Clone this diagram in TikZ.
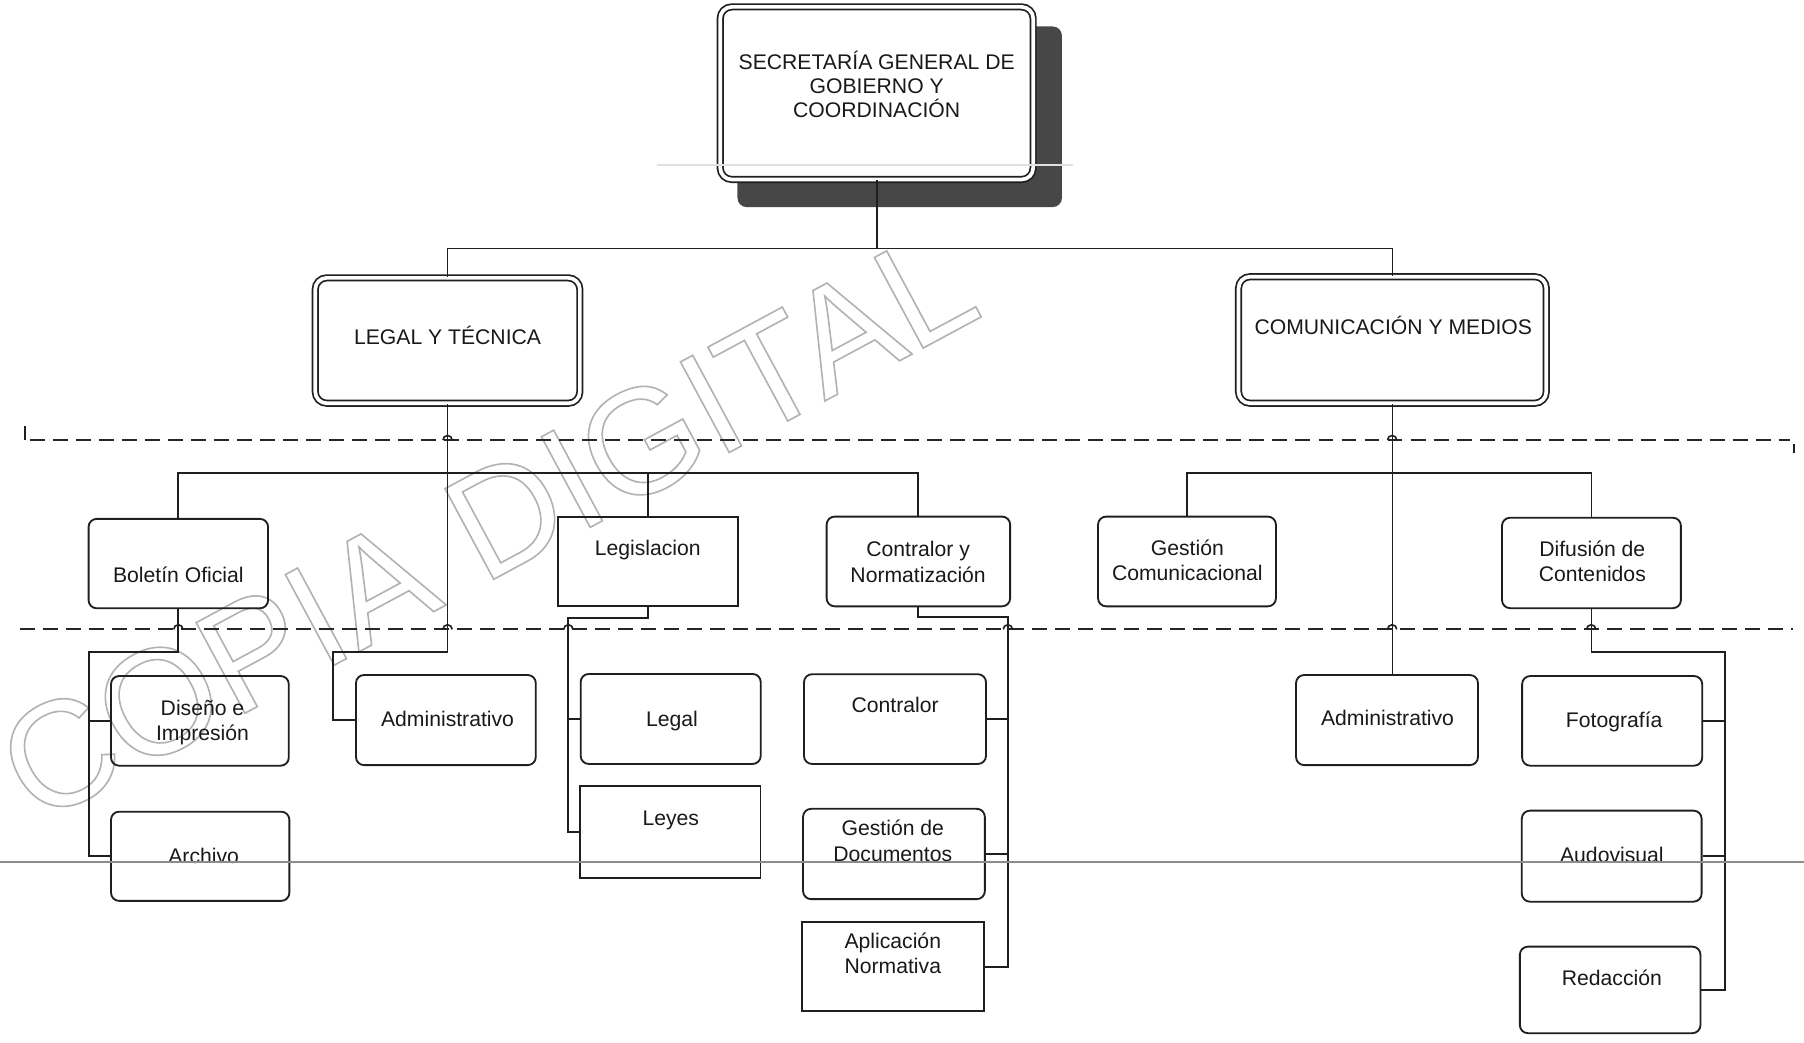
\documentclass[tikz,border=0pt]{standalone}
\usepackage{fontspec}
\setmainfont{Liberation Sans}
\usetikzlibrary{calc}
\tikzset{
  box/.style={draw=black!88, line width=0.8pt, rounded corners=3.5pt, inner sep=0pt},
  sqbox/.style={draw=black!88, line width=0.8pt, sharp corners, inner sep=0pt},
  dblbox/.style={draw=black!88, line width=0.75pt, double=white, double distance=1.6pt, rounded corners=5pt, inner sep=0pt},
  lbl/.style={anchor=base, align=center, inner sep=0pt, text=black!90, font=\fontsize{9.2pt}{11pt}\selectfont},
  toplbl/.style={lbl, font=\fontsize{9.2pt}{10.5pt}\selectfont},
  conn/.style={draw=black!88, line width=0.8pt},
  hop/.style={draw=black!88, line width=0.7pt},
  sep/.style={draw=black!85, line width=0.8pt, dash pattern=on 6.5pt off 3.5pt},
  wmk/.style={rotate=28.3, inner sep=0pt, font=\fontsize{65pt}{70pt}\selectfont},
  scan/.style={draw=black!45, line width=1pt},
}
\newcommand{\rbox}[6]{\node[#1, minimum width={(#5-#3)*0.5pt}, minimum height={(#6-#4)*0.5pt}] (#2) at ({(#3+#5)/2},{(#4+#6)/2}) {};}
\newcommand{\outlinetext}[1]{\special{pdf:literal 1 Tr 0.7 w}#1\special{pdf:literal 0 Tr}}
\begin{document}
\begin{tikzpicture}[x=0.5pt,y=-0.5pt]
\fill[white] (0,0) rectangle (1568,906);
\useasboundingbox (0,0) rectangle (1568,906);

% watermark (outlined letters)
\node[wmk, text=black!30] (wmark) at (423,456) {\outlinetext{COPIA DIGITAL}};

% separators
\coordinate (d1a) at (26,382.5);
\coordinate (d1b) at (1556,382.5);
\coordinate (d2a) at (17,547);
\coordinate (d2b) at (1558,547);
\draw[sep] (d1a) -- (d1b);
\draw[sep] (d2a) -- (d2b);
\coordinate (t1a) at (21.6,370);
\coordinate (t1b) at (21.6,382.5);
\coordinate (t2a) at (1559.5,386);
\coordinate (t2b) at (1559.5,394);
\draw[conn] (t1a) -- (t1b);
\draw[conn] (t2a) -- (t2b);

% top box with shadow
\fill[black!72, rounded corners=4pt] (641,23) rectangle (923,180);
\rbox{dblbox, fill=white}{top}{626}{6}{898}{156}
\rbox{dblbox}{legal}{274}{241.5}{504}{350.5}
\rbox{dblbox}{comm}{1076.5}{240.5}{1344}{350.5}

% level 2
\rbox{box}{bol}{77}{451}{233}{528.7}
\rbox{sqbox}{legis}{485}{449}{641.6}{527}
\rbox{box}{cyn}{718.5}{449}{878}{527}
\rbox{box}{gcom}{954.4}{449}{1109}{527}
\rbox{box}{dif}{1305.5}{450}{1461}{528.6}

% level 3
\rbox{box}{dis}{96.5}{587.6}{251}{665.5}
\rbox{box}{arch}{96.5}{705.5}{251.5}{783}
\rbox{box}{adm1}{309.4}{586.7}{465.7}{665}
\rbox{box}{legaltwo}{504.7}{585.8}{661.2}{664}
\rbox{sqbox}{leyes}{504}{683}{661}{763}
\rbox{box}{contr}{698.8}{586}{857}{664}
\rbox{box}{gdoc}{698}{703}{856}{781.5}
\rbox{sqbox}{apl}{697}{801.5}{855.5}{879}
\rbox{box}{adm2}{1126.5}{586.7}{1284.6}{665}
\rbox{box}{foto}{1323}{587.6}{1479.5}{665.5}
\rbox{box}{audo}{1322.7}{704.6}{1479}{783.7}
\rbox{box}{red}{1321}{822.8}{1478}{898}

% connectors
\coordinate (j0) at (762,216);
\draw[conn] (top.south) -- (j0);
\draw[conn] (legal.north) |- (j0) -| (comm.north);

\coordinate (bus1) at (389,411);
\coordinate (c1) at (289.4,566.4);
\draw[conn] (legal.south) |- (c1) |- (adm1.west);
\draw[conn] (bol.north) |- (bus1) -| (cyn.north);
\draw[conn] (legis.north) -- (legis.north |- bus1);

\coordinate (c2) at (77.2,566.4);
\draw[conn] (bol.south) |- (c2) |- (arch.west);
\draw[conn] (c2) |- (dis.west);

\coordinate (c3) at (494,537);
\draw[conn] (legis.south) |- (c3) |- (leyes.west);
\draw[conn] (c3) |- (legaltwo.west);

\coordinate (c4) at (876,536);
\draw[conn] (cyn.south) |- (c4) |- (apl.east);
\draw[conn] (c4) |- (contr.east);
\draw[conn] (c4) |- (gdoc.east);

\draw[conn] (comm.south) -- (comm.south |- adm2.north);
\coordinate (bus2) at (1210,411);
\draw[conn] (gcom.north) |- (bus2) -| (dif.north);
\coordinate (c5) at (1499.5,567);
\draw[conn] (dif.south) |- (c5) |- (red.east);
\draw[conn] (c5) |- (foto.east);
\draw[conn] (c5) |- (audo.east);

% hops where the separators cross connectors
\foreach \hx in {389,1210} \draw[hop] (\hx-4,382.5) arc (180:360:4);
\foreach \hx in {155,389,494,876,1210,1383} \draw[hop] (\hx-4,547) arc (180:360:4);

% labels (base = baseline of the last line)
\node[toplbl] (top-t) at (762,102) {SECRETARÍA GENERAL DE\\GOBIERNO Y\\COORDINACIÓN};
\node[lbl] (legal-t) at (389,299) {LEGAL Y TÉCNICA};
\node[lbl] (comm-t) at (1211,290.5) {COMUNICACIÓN Y MEDIOS};
\node[lbl] (bol-t) at (155,506.5) {Boletín Oficial};
\node[lbl] (legis-t) at (563,482.5) {Legislacion};
\node[lbl] (cyn-t) at (798,506) {Contralor y\\Normatización};
\node[lbl] (gcom-t) at (1032,504.5) {Gestión\\Comunicacional};
\node[lbl] (dif-t) at (1384,505.5) {Difusión de\\Contenidos};
\node[lbl] (dis-t) at (176,644) {Diseño e\\Impresión};
\node[lbl] (arch-t) at (177,750.5) {Archivo};
\node[lbl] (adm1-t) at (389,631.5) {Administrativo};
\node[lbl] (legaltwo-t) at (584,631.5) {Legal};
\node[lbl] (leyes-t) at (583,717.5) {Leyes};
\node[lbl] (contr-t) at (778,619.5) {Contralor};
\node[lbl] (gdoc-t) at (776,748.5) {Gestión de\\Documentos};
\node[lbl] (apl-t) at (776,846) {Aplicación\\Normativa};
\node[lbl] (adm2-t) at (1206,630.5) {Administrativo};
\node[lbl] (foto-t) at (1403,632.5) {Fotografía};
\node[lbl] (audo-t) at (1401,749.5) {Audovisual};
\node[lbl] (red-t) at (1401,856.5) {Redacción};

% scan streaks
\coordinate (s1a) at (0,749);
\coordinate (s1b) at (1568,749);
\draw[scan] (s1a) -- (s1b);
\coordinate (s2a) at (571,143.5);
\coordinate (s2b) at (933,143.5);
\draw[draw=black!12, line width=1pt] (s2a) -- (s2b);
\end{tikzpicture}
\end{document}
